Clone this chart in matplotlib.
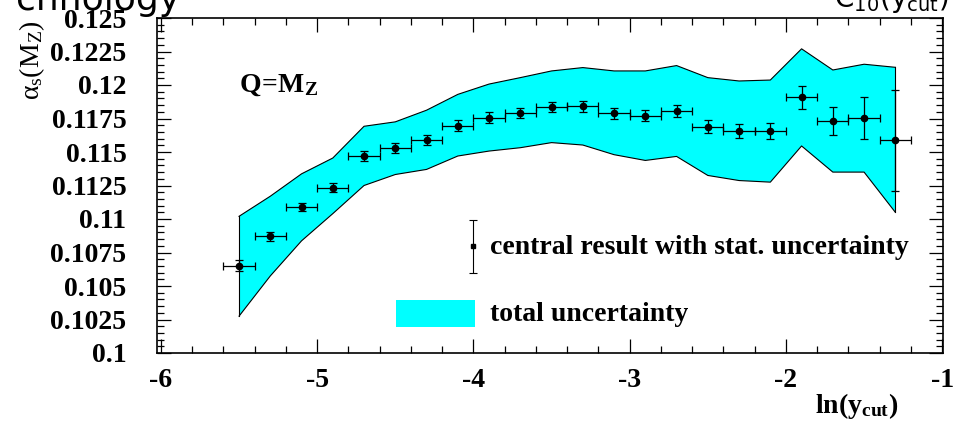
import numpy as np
import matplotlib
matplotlib.use('Agg')
import matplotlib.pyplot as plt
from matplotlib.ticker import MultipleLocator, FixedFormatter, FixedLocator

# 폰트 설정
plt.rcParams['font.family'] = ['Liberation Serif', 'DejaVu Sans']
plt.rcParams['font.weight'] = 'bold'
plt.rcParams['mathtext.fontset'] = 'custom'
plt.rcParams['mathtext.rm'] = 'Liberation Serif:normal'
plt.rcParams['mathtext.it'] = 'Liberation Serif:italic:normal'
plt.rcParams['mathtext.bf'] = 'Liberation Serif:bold'
plt.rcParams['mathtext.sf'] = 'DejaVu Sans:normal'

# 데이터
ln_ycut = [-5.5, -5.3, -5.1, -4.9, -4.7, -4.5, -4.3, -4.1, -3.9, -3.7, -3.5,
           -3.3, -3.1, -2.9, -2.7, -2.5, -2.3, -2.1, -1.9, -1.7, -1.5, -1.3]
alpha_s = [0.1065, 0.1087, 0.1109, 0.11235, 0.1147, 0.1153, 0.1159, 0.11697,
           0.11757, 0.1179, 0.11835, 0.1184, 0.1179, 0.1177, 0.11805, 0.1169,
           0.11657, 0.11657, 0.11907, 0.11732, 0.11752, 0.11587]
stat_err = [0.00041, 0.00036, 0.0003, 0.00037, 0.00037, 0.0004, 0.00035, 0.00039,
            0.0004, 0.00037, 0.00039, 0.00039, 0.0004, 0.00041, 0.00043, 0.00048,
            0.00054, 0.0006, 0.00083, 0.00104, 0.00156, 0.00375]
bin_half = [0.1] * 22
band_up = [0.1102, 0.1117, 0.11337, 0.11455, 0.11692, 0.11725, 0.11812, 0.1193,
           0.12007, 0.12055, 0.12105, 0.1213, 0.12105, 0.12105, 0.12145, 0.12055,
           0.1203, 0.12037, 0.1227, 0.12112, 0.12155, 0.12132]
band_lo = [0.10275, 0.10575, 0.10837, 0.1104, 0.1125, 0.11332, 0.1137, 0.1147,
           0.11507, 0.11532, 0.1157, 0.11552, 0.1148, 0.11437, 0.11467, 0.11325,
           0.11287, 0.11275, 0.11545, 0.1135, 0.1135, 0.1105]

fig = plt.figure(figsize=(9.56, 4.26), dpi=100)
ax = fig.add_axes([157 / 956, 1 - 353 / 426, (943 - 157) / 956, (353 - 18) / 426])

# 전체 불확도 밴드
ax.fill_between(ln_ycut, band_lo, band_up, facecolor='#00ffff', edgecolor='none', zorder=1)
ax.plot(ln_ycut, band_up, color='black', lw=0.8, zorder=2)
ax.plot(ln_ycut, band_lo, color='black', lw=0.8, zorder=2)
ax.plot([ln_ycut[0], ln_ycut[0]], [band_lo[0], band_up[0]], color='black', lw=0.8, zorder=2)
ax.plot([ln_ycut[-1], ln_ycut[-1]], [band_lo[-1], band_up[-1]], color='black', lw=0.8, zorder=2)

# 중심값 + 통계 오차
ax.errorbar(ln_ycut, alpha_s, xerr=bin_half, yerr=stat_err, fmt='o', color='black',
            ms=4.5, elinewidth=0.9, capsize=3, capthick=0.9, zorder=3)

# 범례 (수동)
ax.errorbar([-4.0], [0.10797], yerr=[0.00199], fmt='s', color='black', ms=3,
            elinewidth=0.8, capsize=3, capthick=0.8, zorder=3)
ax.text(-3.897, 0.10787, 'central result with stat. uncertainty', fontsize=20,
        fontweight='bold', va='center', ha='left')
ax.fill_between([-4.498, -3.993], [0.10193, 0.10193], [0.10395, 0.10395],
                facecolor='#00ffff', edgecolor='none')
ax.text(-3.897, 0.1029, 'total uncertainty', fontsize=20, fontweight='bold',
        va='center', ha='left')
ax.text(-5.5, 0.12, r'$\mathbf{Q\!=\!M_Z}$', fontsize=20, va='center', ha='left')

# 축 설정
ax.set_xlim(-6.025, -0.995)
ax.set_ylim(0.1, 0.125)
yt = [0.1, 0.1025, 0.105, 0.1075, 0.11, 0.1125, 0.115, 0.1175, 0.12, 0.1225, 0.125]
ylabels = ['0.1', '0.1025', '0.105', '0.1075', '0.11', '0.1125', '0.115',
           '0.1175', '0.12', '0.1225', '0.125']
ax.yaxis.set_major_locator(FixedLocator(yt))
ax.yaxis.set_major_formatter(FixedFormatter(ylabels))
ax.yaxis.set_minor_locator(MultipleLocator(0.0005))
ax.xaxis.set_major_locator(FixedLocator([-6, -5, -4, -3, -2, -1]))
ax.xaxis.set_major_formatter(FixedFormatter(['-6', '-5', '-4', '-3', '-2', '-1']))
ax.xaxis.set_minor_locator(MultipleLocator(0.2))
ax.tick_params(which='both', direction='in', top=True, right=True, width=0.9)
ax.tick_params(which='major', length=10)
ax.tick_params(which='minor', length=5)
ax.tick_params(axis='y', which='major', pad=22, labelsize=20)
ax.tick_params(axis='x', which='major', pad=11, labelsize=20)
for s in ax.spines.values():
    s.set_linewidth(1.2)

fig.text(898 / 956, 1 - 413 / 426, r'$\mathbf{ln(y}_{\mathbf{cut}}\mathbf{)}$',
         fontsize=20, ha='right', va='baseline')
fig.text(32 / 956, 1 - 20 / 426, r'$\mathrm{\alpha_s(M_Z)}$', fontsize=20,
         fontweight='normal', rotation=90, ha='center', va='top')

# 잘린 제목 조각
fig.text(180 / 956, 1 - 10 / 426, 'chnology', family='DejaVu Sans', fontsize=26,
         fontweight='normal', ha='right', va='baseline')
fig.text(948 / 956, 1 - 7 / 426, r'$\mathsf{C_{10}(y_{cut})}$', fontsize=20,
         fontweight='normal', ha='right', va='baseline')

fig.savefig('out.png', dpi=100)
